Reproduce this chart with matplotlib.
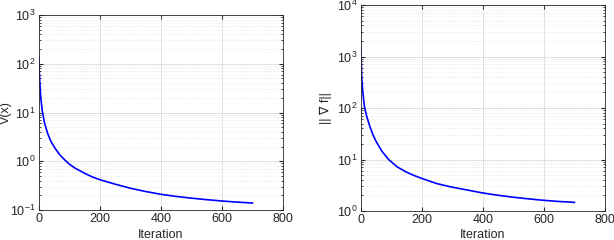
import numpy as np
import matplotlib
matplotlib.use("Agg")
import matplotlib.pyplot as plt
from matplotlib.ticker import LogLocator, NullFormatter

# valores
iter_v = [1, 2, 4, 7, 12, 20, 30, 40, 54, 70, 87, 100, 120, 150, 175, 200, 250,
          300, 350, 400, 450, 500, 550, 600, 650, 700]
v_x = [137, 85, 45, 22, 11, 6.0, 3.7, 2.6, 1.85, 1.35, 1.05, 0.88, 0.72, 0.57,
       0.48, 0.42, 0.34, 0.28, 0.24, 0.21, 0.19, 0.175, 0.163, 0.153, 0.145, 0.139]

iter_g = [1, 2, 4, 7, 10, 13, 20, 30, 39, 50, 70, 92, 120, 150, 175, 200, 250,
          300, 350, 400, 450, 500, 550, 600, 650, 700]
grad_f = [1500, 900, 400, 220, 150, 105, 70, 45, 32, 23, 14.5, 10, 7.2, 5.7,
          4.9, 4.3, 3.4, 2.9, 2.55, 2.24, 2.02, 1.85, 1.72, 1.61, 1.53, 1.47]

plt.rcParams['font.family'] = ['Liberation Sans', 'DejaVu Sans']
plt.rcParams['mathtext.fontset'] = 'custom'
plt.rcParams['mathtext.rm'] = 'Liberation Sans'
plt.rcParams['mathtext.default'] = 'regular'
txt = '#262626'

fig = plt.figure(figsize=(6.14, 2.4), dpi=100)
ax1 = fig.add_axes([38.5/614, 1-210/240, 244.5/614, 195/240])
ax2 = fig.add_axes([360.5/614, 1-211/240, 244.5/614, 206/240])


def estilo(ax, ylims, ylabel, xl_y, yl_x):
    ax.set_yscale('log')
    ax.set_xlim(0, 800)
    ax.set_ylim(*ylims)
    ax.set_xticks([0, 200, 400, 600, 800])
    ax.yaxis.set_major_locator(LogLocator(base=10, numticks=10))
    ax.yaxis.set_minor_locator(LogLocator(base=10, subs=np.arange(2, 10), numticks=10))
    ax.yaxis.set_minor_formatter(NullFormatter())
    ax.grid(True, which='major', color='#dcdcdc', lw=0.6)
    ax.grid(True, which='minor', color='#dedede', lw=0.5, ls=':')
    ax.tick_params(which='both', direction='in', top=True, right=True,
                   labelsize=9, colors=txt, length=3, pad=2)
    ax.tick_params(which='minor', length=1.5)
    for s in ax.spines.values():
        s.set_color(txt)
        s.set_linewidth(0.6)
    ax.set_xlabel('Iteration', fontsize=9, color=txt)
    ax.set_ylabel(ylabel, fontsize=9, color=txt)
    ax.xaxis.set_label_coords(0.5, xl_y)
    ax.yaxis.set_label_coords(yl_x, 0.5)


ax1.plot(iter_v, v_x, c=(0, 0, 1), lw=1.2)
estilo(ax1, (0.1, 1000), 'V(x)', -0.097, -0.108)

ax2.plot(iter_g, grad_f, c=(0, 0, 1), lw=1.2)
estilo(ax2, (1, 10000), '|| \u2207 f||', -0.087, -0.117)

fig.savefig('out.png', dpi=100)
